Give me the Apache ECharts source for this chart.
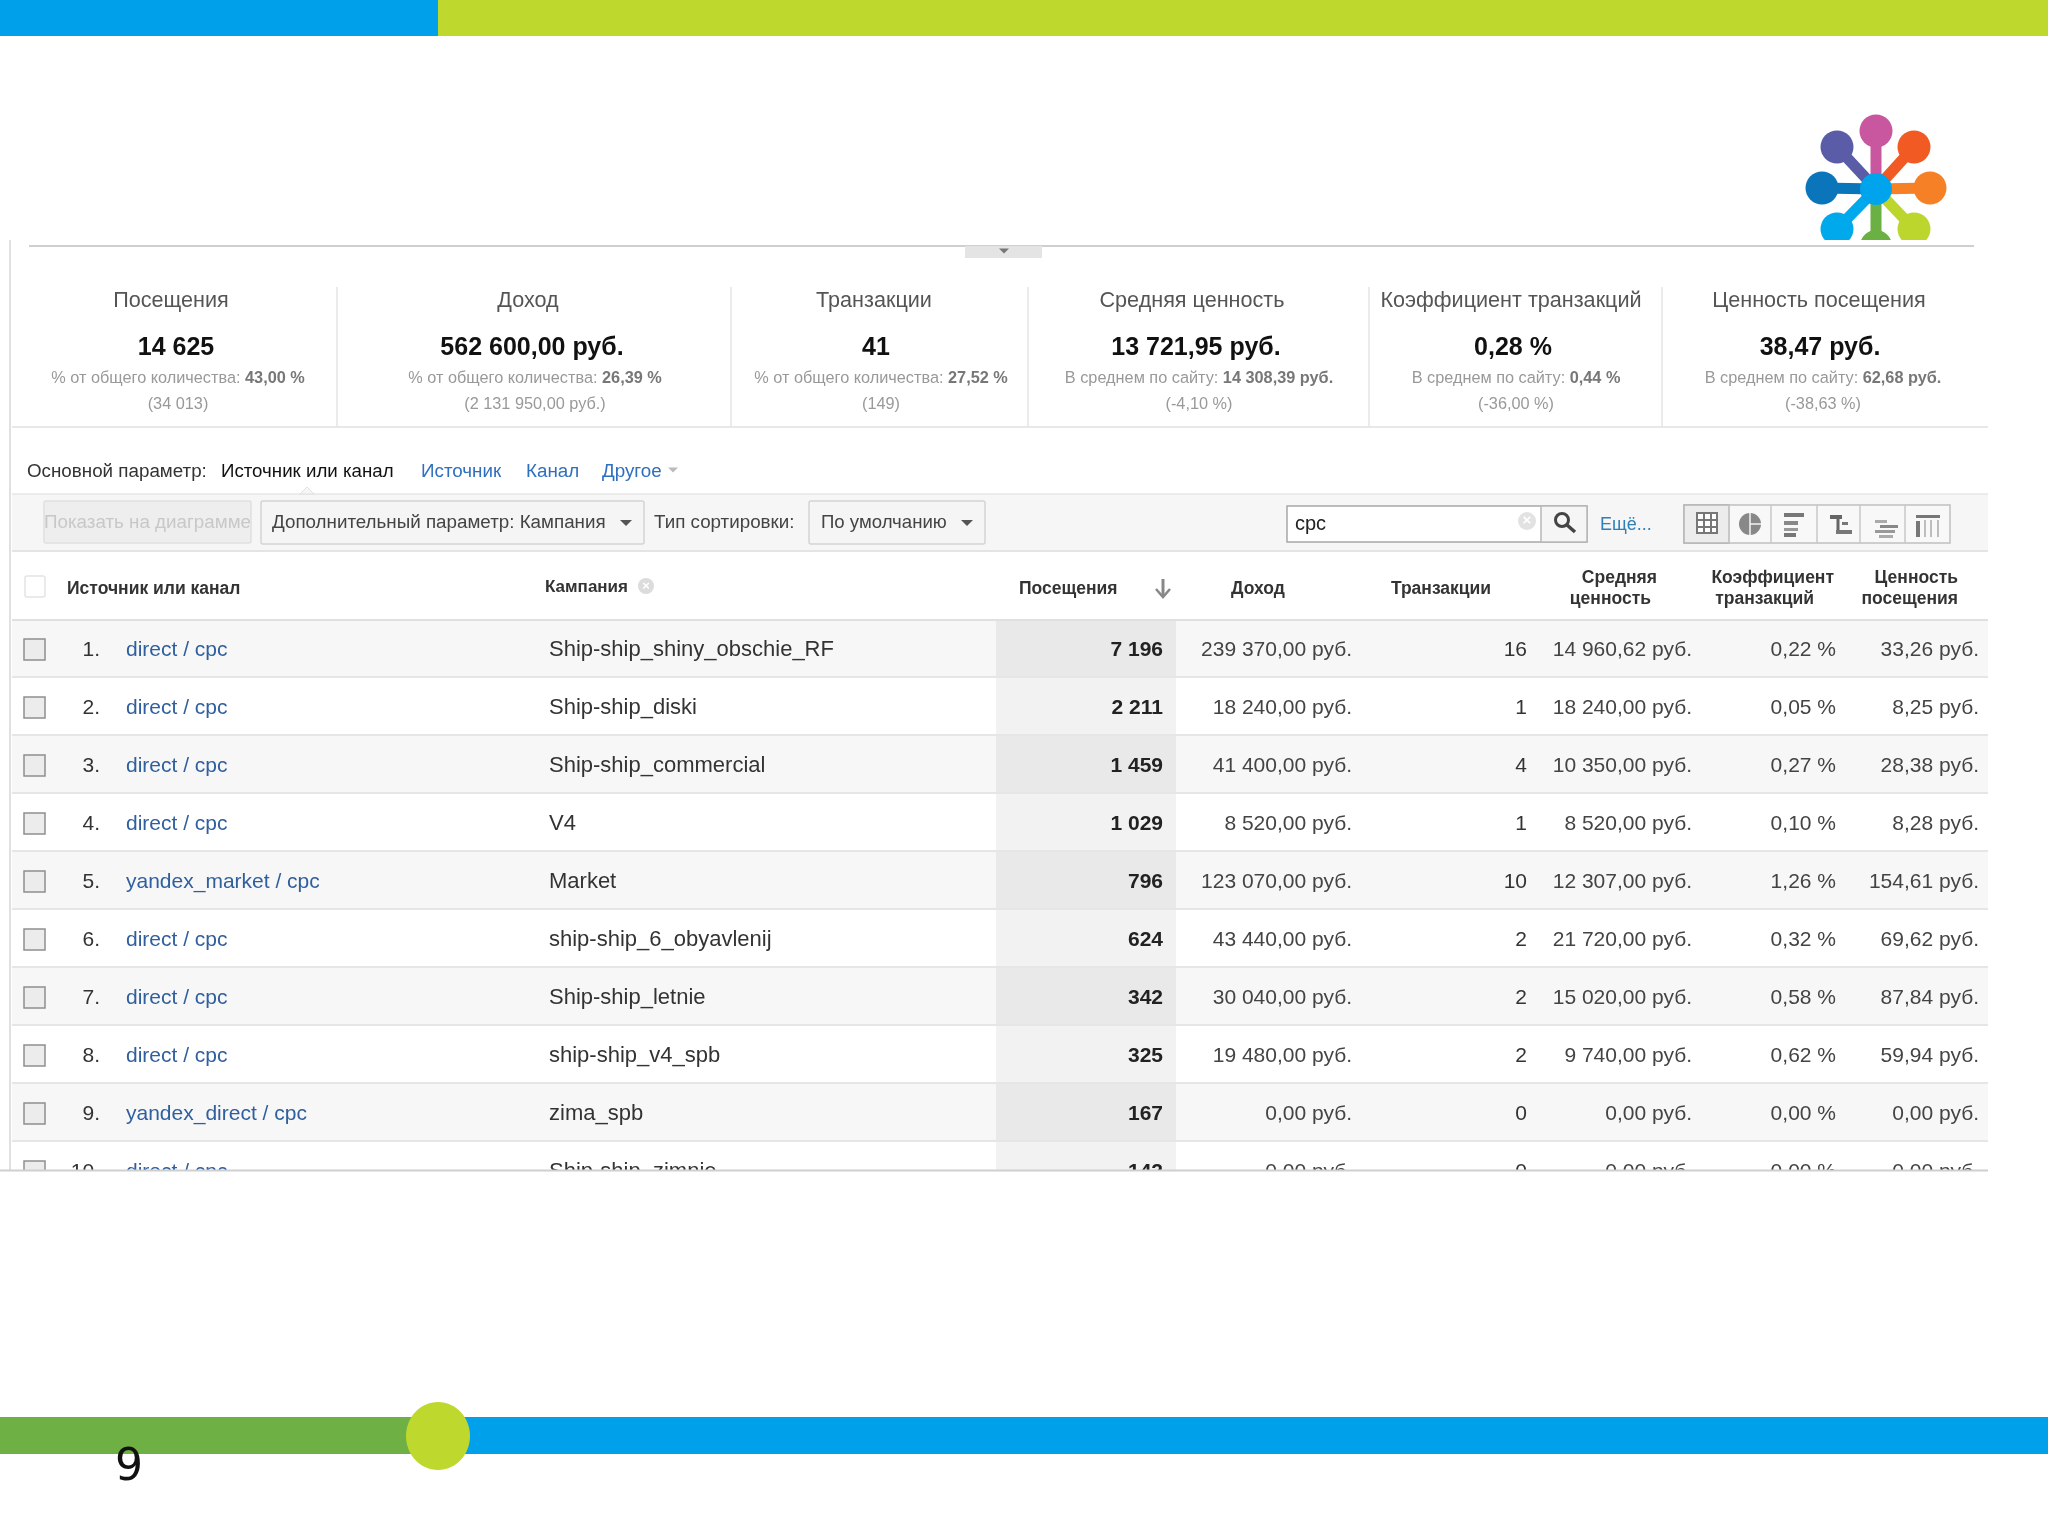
<!DOCTYPE html>
<html>
<head>
<meta charset="utf-8">
<style>
  html, body { margin: 0; padding: 0; background: #fff; }
  #main { width: 2048px; height: 1536px; }
</style>
<script src="https://cdn.jsdelivr.net/npm/echarts@6/dist/echarts.min.js"></script>
</head>
<body>
<div id="main"></div>
<script>
// kpi strip
const statTitles = ['Посещения', 'Доход', 'Транзакции', 'Средняя ценность', 'Коэффициент транзакций', 'Ценность посещения']
const statValues = ['14 625', '562 600,00 руб.', '41', '13 721,95 руб.', '0,28 %', '38,47 руб.']
const statNotes = ['% от общего количества: ', '% от общего количества: ', '% от общего количества: ', 'В среднем по сайту: ', 'В среднем по сайту: ', 'В среднем по сайту: ']
const statNoteValues = ['43,00 %', '26,39 %', '27,52 %', '14 308,39 руб.', '0,44 %', '62,68 руб.']
const statTotals = ['(34 013)', '(2 131 950,00 руб.)', '(149)', '(-4,10 %)', '(-36,00 %)', '(-38,63 %)']

// table
const sources = ['direct / cpc', 'direct / cpc', 'direct / cpc', 'direct / cpc', 'yandex_market / cpc', 'direct / cpc', 'direct / cpc', 'direct / cpc', 'yandex_direct / cpc', 'direct / cpc']
const campaigns = ['Ship-ship_shiny_obschie_RF', 'Ship-ship_diski', 'Ship-ship_commercial', 'V4', 'Market', 'ship-ship_6_obyavlenij', 'Ship-ship_letnie', 'ship-ship_v4_spb', 'zima_spb', 'Ship-ship_zimnie']
const visits = [7196, 2211, 1459, 1029, 796, 624, 342, 325, 167, 142]
const income = [239370, 18240, 41400, 8520, 123070, 43440, 30040, 19480, 0, 0]
const transactions = [16, 1, 4, 1, 10, 2, 2, 2, 0, 0]
const avgValue = [14960.62, 18240, 10350, 8520, 12307, 21720, 15020, 9740, 0, 0]
const convRate = [0.22, 0.05, 0.27, 0.10, 1.26, 0.32, 0.58, 0.62, 0, 0]
const visitValue = [33.26, 8.25, 28.38, 8.28, 154.61, 69.62, 87.84, 59.94, 0, 0]

const FONT = '"Liberation Sans", Arial, sans-serif'
const LINK = '#2f5f9e'
const TAB = '#2f6fc0'
const HEAD = 'bold 17.5px ' + FONT

// column anchors, in page pixels on the hidden x axis
const statCenters = [171, 528, 874, 1192, 1511, 1819]
const statValueShift = [5, 4, 2, 4, 2, 1]
const statNoteShift = [7, 7, 7, 7, 5, 4]
const colNo = 100, colSource = 126, colCampaign = 549
const colVisits = 1163, colIncome = 1352, colTrans = 1527, colAvg = 1692, colRate = 1836, colValue = 1979

const group3 = s => s.replace(/\B(?=(\d{3})+(?!\d))/g, ' ')
const money = v => {
  const parts = v.toFixed(2).split('.')
  return group3(parts[0]) + ',' + parts[1] + ' руб.'
}
const percent = v => v.toFixed(2).replace('.', ',') + ' %'

function label (x, y, text, size, color, align, extra) {
  return {
    type: 'text',
    x: x,
    y: y,
    style: Object.assign({
      text: text,
      font: (size || 18) + 'px ' + FONT,
      fill: color || '#333',
      align: align || 'left',
      verticalAlign: 'middle'
    }, extra || {})
  }
}
function box (x, y, w, h, fill, stroke, r) {
  return {
    type: 'rect',
    shape: { x: x, y: y, width: w, height: h, r: r || 0 },
    style: { fill: fill, stroke: stroke || null, lineWidth: stroke ? 1.5 : 0 }
  }
}
function rule (x1, y1, x2, y2, color, w) {
  return {
    type: 'line',
    shape: { x1: x1, y1: y1, x2: x2, y2: y2 },
    style: { stroke: color, lineWidth: w || 1.5 }
  }
}
function tri (x, y, s, color) {
  return {
    type: 'polygon',
    shape: { points: [[x - s, y - s / 2], [x + s, y - s / 2], [x, y + s / 2]] },
    style: { fill: color }
  }
}
function blob (x, y, r, color) {
  return { type: 'circle', shape: { cx: x, cy: y, r: r }, style: { fill: color } }
}

function renderStat (params, api) {
  const i = api.value(0)
  const cx = api.coord([statCenters[i], 300])[0]
  const at = y => api.coord([statCenters[i], y])[1]
  return {
    type: 'group',
    children: [
      label(cx, at(301), statTitles[i], 21.6, '#555', 'center'),
      label(cx + statValueShift[i], at(348), statValues[i], 25, '#111', 'center', { font: 'bold 25px ' + FONT }),
      {
        type: 'text',
        x: cx + statNoteShift[i],
        y: at(379),
        style: {
          rich: {
            n: { font: '16.3px ' + FONT, fill: '#999' },
            b: { font: 'bold 16.3px ' + FONT, fill: '#777' }
          },
          text: '{n|' + statNotes[i] + '}{b|' + statNoteValues[i] + '}',
          align: 'center',
          verticalAlign: 'middle'
        }
      },
      label(cx + statNoteShift[i], at(405), statTotals[i], 16.3, '#999', 'center')
    ]
  }
}

function renderRow (params, api) {
  const i = api.value(1)
  const cy = api.coord([0, i + 0.5])[1]
  const h = api.size([0, 1])[1]
  const top = cy - h / 2
  const odd = i % 2 === 0
  const at = x => api.coord([x, i + 0.5])[0]
  const ty = cy + 1
  return {
    type: 'group',
    children: [
      box(at(12), top, 1976, h, odd ? '#f7f7f7' : '#fff'),
      box(at(996), top, 180, h, odd ? '#e9e9e9' : '#f2f2f2'),
      rule(at(12), top + h - 1, at(1988), top + h - 1, '#e6e6e6', 2),
      box(at(24), cy - 10, 21, 21, '#ececec', '#8e8e8e'),
      label(at(colNo), ty, (i + 1) + '.', 21, '#333', 'right'),
      label(at(colSource), ty, sources[i], 21, LINK),
      label(at(colCampaign), ty, campaigns[i], 22, '#333'),
      label(at(colVisits), ty, group3(String(visits[i])), 21, '#222', 'right', { font: 'bold 21px ' + FONT }),
      label(at(colIncome), ty, money(income[i]), 21, '#444', 'right'),
      label(at(colTrans), ty, String(transactions[i]), 21, '#333', 'right'),
      label(at(colAvg), ty, money(avgValue[i]), 21, '#444', 'right'),
      label(at(colRate), ty, percent(convRate[i]), 21, '#444', 'right'),
      label(at(colValue), ty, money(visitValue[i]), 21, '#444', 'right')
    ]
  }
}

// page furniture: slide bars, logo, toolbar, table head
const furniture = [
  box(0, 0, 438, 36, '#00a0ea'),
  box(438, 0, 1610, 36, '#bfd82e'),
  box(0, 1417, 438, 37, '#6eb043'),
  box(438, 1417, 1610, 37, '#00a0ea'),
  { type: 'ellipse', shape: { cx: 438, cy: 1436, rx: 32, ry: 34 }, style: { fill: '#bfd82e' } },
  label(129, 1469, '9', 44, '#111', 'center', { font: '44px "DejaVu Sans"' }),

  // logo
  rule(1876, 189, 1876, 131, '#c8579f', 11),
  rule(1876, 189, 1837, 147, '#5a5ca8', 11),
  rule(1876, 189, 1914, 147, '#f15a22', 11),
  rule(1876, 189, 1822, 188, '#0a75ba', 11),
  rule(1876, 189, 1930, 188, '#f58025', 11),
  rule(1876, 189, 1837, 229, '#00a8ec', 11),
  rule(1876, 189, 1914, 229, '#bcd62e', 11),
  rule(1876, 189, 1876, 240, '#6ab042', 11),
  blob(1876, 131, 16.5, '#c8579f'),
  blob(1837, 147, 16.5, '#5a5ca8'),
  blob(1914, 147, 16.5, '#f15a22'),
  blob(1822, 188, 16.5, '#0a75ba'),
  blob(1930, 188, 16.5, '#f58025'),
  blob(1837, 229, 16.5, '#00a8ec'),
  blob(1914, 229, 16.5, '#bcd62e'),
  blob(1876, 246, 16, '#6ab042'),
  blob(1876, 189, 16, '#00a4ec'),
  box(1800, 240, 160, 26, '#fff'),

  // report frame
  rule(10, 240, 10, 1170, '#e0e0e0', 2),
  rule(29, 246, 1974, 246, '#cfcfcf', 2),
  box(965, 246, 77, 12, '#e4e4e4'),
  tri(1004, 251, 5, '#777'),
  rule(12, 427, 1988, 427, '#e8e8e8', 2),
  rule(337, 287, 337, 427, '#e4e4e4', 1.5),
  rule(731, 287, 731, 427, '#e4e4e4', 1.5),
  rule(1028, 287, 1028, 427, '#e4e4e4', 1.5),
  rule(1369, 287, 1369, 427, '#e4e4e4', 1.5),
  rule(1662, 287, 1662, 427, '#e4e4e4', 1.5),

  // dimension tabs
  label(27, 472, 'Основной параметр:', 18.8, '#333'),
  label(221, 472, 'Источник или канал', 18.7, '#111'),
  label(421, 472, 'Источник', 18.8, TAB),
  label(526, 472, 'Канал', 18.8, TAB),
  label(602, 472, 'Другое', 18.8, TAB),
  tri(673, 470, 5, '#bbb'),

  // toolbar
  box(12, 494, 1976, 57, '#f6f6f6'),
  rule(12, 494, 1988, 494, '#e6e6e6', 1.5),
  rule(12, 551, 1988, 551, '#e4e4e4', 2),
  { type: 'polygon', shape: { points: [[300, 494], [307, 487], [314, 494]] }, style: { fill: '#f6f6f6', stroke: '#e0e0e0', lineWidth: 1 } },
  box(44, 501, 207, 42, '#eeeeee', '#e0e0e0', 2),
  label(44, 523, 'Показать на диаграмме', 18.8, '#c8c8c8'),
  box(261, 501, 383, 43, '#f5f5f5', '#d4d4d4', 2),
  label(272, 523, 'Дополнительный параметр: Кампания', 18.8, '#444'),
  tri(626, 523, 6, '#555'),
  label(654, 523, 'Тип сортировки:', 18.8, '#444'),
  box(809, 501, 176, 43, '#f5f5f5', '#d4d4d4', 2),
  label(821, 523, 'По умолчанию', 18.6, '#444'),
  tri(967, 523, 6, '#555'),

  // search
  box(1287, 506, 300, 36, '#fff', '#a8a8a8'),
  box(1541, 506, 46, 36, '#f5f5f5', '#b8b8b8'),
  label(1295, 524, 'cpc', 20, '#222'),
  blob(1527, 521, 9, '#e2e2e2'),
  { type: 'text', x: 1527, y: 521, style: { text: '×', font: 'bold 15px ' + FONT, fill: '#fff', align: 'center', verticalAlign: 'middle' } },
  { type: 'circle', shape: { cx: 1562, cy: 520, r: 6.5 }, style: { fill: 'none', stroke: '#444', lineWidth: 3 } },
  rule(1567, 525, 1575, 532, '#444', 3.5),
  label(1600, 525, 'Ещё...', 18, '#2f7fb8'),

  // view switcher
  box(1684, 505, 266, 38, '#f8f8f8', '#c0c0c0'),
  box(1684, 505, 45, 38, '#ececec', '#b4b4b4'),
  rule(1729, 505, 1729, 543, '#c8c8c8'),
  rule(1771, 505, 1771, 543, '#c8c8c8'),
  rule(1817, 505, 1817, 543, '#c8c8c8'),
  rule(1860, 505, 1860, 543, '#c8c8c8'),
  rule(1905, 505, 1905, 543, '#c8c8c8'),
  { type: 'rect', shape: { x: 1697, y: 513, width: 20, height: 20 }, style: { fill: '#fff', stroke: '#777', lineWidth: 2 } },
  rule(1704, 513, 1704, 533, '#777', 2),
  rule(1711, 513, 1711, 533, '#777', 2),
  rule(1697, 520, 1717, 520, '#777', 2),
  rule(1697, 527, 1717, 527, '#777', 2),
  blob(1750, 524, 11, '#888'),
  rule(1750, 513, 1750, 535, '#f4f4f4', 1.5),
  rule(1750, 524, 1761, 524, '#f4f4f4', 1.5),
  box(1784, 513, 20, 4, '#777'),
  box(1784, 521, 14, 4, '#888'),
  box(1784, 528, 14, 3, '#999'),
  box(1784, 533, 12, 4, '#777'),
  box(1830, 515, 12, 4, '#666'),
  rule(1838, 515, 1838, 533, '#666', 3),
  box(1842, 522, 6, 3, '#777'),
  box(1836, 530, 16, 4, '#777'),
  box(1875, 520, 12, 3, '#aaa'),
  box(1880, 525, 18, 3, '#888'),
  box(1875, 530, 20, 3, '#999'),
  box(1879, 535, 14, 3, '#aaa'),
  box(1916, 515, 24, 3, '#777'),
  box(1916, 521, 4, 16, '#777'),
  rule(1925, 520, 1925, 537, '#aaa', 1.5),
  rule(1931, 520, 1931, 537, '#aaa', 1.5),
  rule(1938, 520, 1938, 537, '#aaa', 1.5),

  // table head
  box(25, 576, 20, 21, '#fff', '#e4e4e4', 2),
  label(67, 589, 'Источник или канал', 17, '#333', 'left', { font: HEAD }),
  label(545, 587, 'Кампания', 17, '#333', 'left', { font: 'bold 17px ' + FONT }),
  blob(646, 586, 8, '#dcdcdc'),
  { type: 'text', x: 646, y: 586, style: { text: '×', font: 'bold 13px ' + FONT, fill: '#fff', align: 'center', verticalAlign: 'middle' } },
  label(1019, 589, 'Посещения', 17, '#333', 'left', { font: HEAD }),
  rule(1163, 579, 1163, 596, '#888', 3),
  { type: 'polyline', shape: { points: [[1156, 589], [1163, 597], [1170, 589]] }, style: { fill: 'none', stroke: '#888', lineWidth: 2.5 } },
  label(1258, 589, 'Доход', 17, '#333', 'center', { font: HEAD }),
  label(1441, 589, 'Транзакции', 17, '#333', 'center', { font: HEAD }),
  label(1657, 578, 'Средняя', 17, '#333', 'right', { font: HEAD }),
  label(1651, 599, 'ценность', 17, '#333', 'right', { font: HEAD }),
  label(1834, 578, 'Коэффициент', 17, '#333', 'right', { font: HEAD }),
  label(1814, 599, 'транзакций', 17, '#333', 'right', { font: HEAD }),
  label(1958, 578, 'Ценность', 17, '#333', 'right', { font: HEAD }),
  label(1958, 599, 'посещения', 17, '#333', 'right', { font: HEAD }),
  rule(12, 620, 1988, 620, '#e0e0e0', 2),

  // table foot, drawn over the cut off tenth row
  rule(0, 1170.5, 1988, 1170.5, '#cfcfcf', 2)
]

const chart = echarts.init(document.getElementById('main'))
chart.setOption({
  animation: false,
  backgroundColor: '#fff',
  textStyle: { fontFamily: FONT },
  grid: [
    { left: 0, width: 2048, top: 620, height: 551 },
    { left: 0, width: 2048, top: 280, height: 140 }
  ],
  xAxis: [
    { gridIndex: 0, type: 'value', min: 0, max: 2048, show: false },
    { gridIndex: 1, type: 'value', min: 0, max: 2048, show: false }
  ],
  yAxis: [
    { gridIndex: 0, type: 'value', min: 0, max: 9.5, inverse: true, show: false },
    { gridIndex: 1, type: 'value', min: 280, max: 420, inverse: true, show: false }
  ],
  graphic: { elements: furniture.map(el => Object.assign({ silent: true, z: 10 }, el)) },
  series: [
    {
      type: 'custom',
      xAxisIndex: 0,
      yAxisIndex: 0,
      clip: true,
      silent: true,
      renderItem: renderRow,
      encode: { x: 0, y: 1 },
      data: sources.map((s, i) => [0, i])
    },
    {
      type: 'custom',
      xAxisIndex: 1,
      yAxisIndex: 1,
      clip: false,
      silent: true,
      renderItem: renderStat,
      encode: { x: 1 },
      data: statTitles.map((t, i) => [i, statCenters[i]])
    }
  ]
})
</script>
</body>
</html>
